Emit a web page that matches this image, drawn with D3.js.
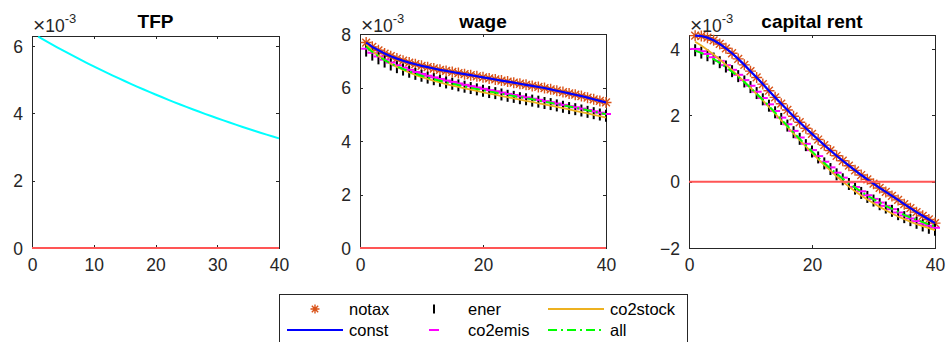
<!DOCTYPE html>
<html><head><meta charset="utf-8">
<script src="https://cdn.jsdelivr.net/npm/d3@7"></script>
<style>body{margin:0;background:#fff}svg{display:block}text{font-family:"Liberation Sans",Arial,Helvetica,sans-serif}</style>
</head><body>
<svg id="c" width="946" height="342"></svg>
<script>
const periods = d3.range(1, 41);

const tfpValues = [6.280,6.175,6.072,5.971,5.871,5.773,5.677,5.582,5.489,5.397,5.307,5.219,5.132,5.046,4.962,4.879,4.798,4.718,4.639,4.562,4.486,4.411,4.337,4.265,4.194,4.124,4.055,3.987,3.921,3.855,3.791,3.728,3.666,3.604,3.544,3.485,3.427,3.370,3.313,3.258];

const wageNotax = [7.68,7.52,7.39,7.27,7.17,7.08,7.00,6.93,6.87,6.81,6.76,6.71,6.66,6.62,6.58,6.54,6.50,6.46,6.42,6.38,6.34,6.30,6.26,6.22,6.18,6.14,6.10,6.06,6.02,5.98,5.93,5.88,5.83,5.78,5.73,5.68,5.62,5.56,5.50,5.44];
const wageConst = [7.68,7.52,7.39,7.27,7.17,7.08,7.00,6.93,6.87,6.81,6.76,6.71,6.66,6.62,6.58,6.54,6.50,6.46,6.42,6.38,6.34,6.30,6.26,6.22,6.18,6.14,6.10,6.06,6.02,5.98,5.93,5.88,5.83,5.78,5.73,5.68,5.62,5.56,5.50,5.44];
const wageEner = [7.38,7.23,7.09,6.97,6.86,6.76,6.67,6.59,6.51,6.44,6.37,6.31,6.25,6.19,6.14,6.08,6.03,5.98,5.93,5.88,5.83,5.79,5.74,5.69,5.65,5.60,5.56,5.51,5.47,5.42,5.38,5.33,5.28,5.23,5.19,5.14,5.09,5.04,4.99,4.94];
const wageCo2emis = [7.45,7.30,7.16,7.04,6.93,6.83,6.74,6.66,6.58,6.51,6.44,6.38,6.32,6.26,6.21,6.15,6.10,6.05,6.00,5.95,5.90,5.86,5.81,5.76,5.72,5.67,5.63,5.58,5.54,5.49,5.45,5.40,5.35,5.30,5.26,5.21,5.16,5.11,5.06,5.01];
const wageCo2stock = [7.60,7.38,7.19,7.03,6.89,6.77,6.66,6.56,6.47,6.39,6.32,6.25,6.19,6.13,6.07,6.02,5.97,5.92,5.87,5.82,5.77,5.73,5.68,5.64,5.59,5.55,5.50,5.46,5.41,5.37,5.32,5.28,5.23,5.18,5.13,5.08,5.03,4.98,4.93,4.87];
const wageAll = [7.52,7.33,7.16,7.02,6.90,6.79,6.69,6.60,6.52,6.44,6.37,6.31,6.25,6.19,6.14,6.09,6.04,5.99,5.94,5.90,5.85,5.81,5.77,5.72,5.68,5.64,5.60,5.56,5.51,5.47,5.43,5.38,5.34,5.29,5.25,5.20,5.15,5.10,5.05,5.00];

const rentNotax = [4.40,4.39,4.34,4.26,4.15,4.02,3.87,3.70,3.52,3.33,3.14,2.94,2.74,2.54,2.35,2.16,1.97,1.79,1.61,1.44,1.27,1.10,0.94,0.78,0.63,0.48,0.34,0.20,0.07,-0.06,-0.19,-0.31,-0.43,-0.55,-0.68,-0.80,-0.92,-1.03,-1.14,-1.25];
const rentConst = [4.40,4.39,4.34,4.26,4.15,4.02,3.87,3.70,3.52,3.33,3.14,2.94,2.74,2.54,2.35,2.16,1.97,1.79,1.61,1.44,1.27,1.10,0.94,0.78,0.63,0.48,0.34,0.20,0.07,-0.06,-0.19,-0.31,-0.43,-0.55,-0.68,-0.80,-0.92,-1.03,-1.14,-1.25];
const rentEner = [3.96,3.89,3.81,3.71,3.60,3.47,3.33,3.18,3.02,2.85,2.67,2.48,2.29,2.09,1.89,1.69,1.49,1.29,1.10,0.91,0.73,0.55,0.38,0.22,0.07,-0.07,-0.21,-0.34,-0.46,-0.57,-0.68,-0.78,-0.88,-0.98,-1.07,-1.16,-1.24,-1.32,-1.39,-1.45];
const rentCo2emis = [4.00,3.93,3.85,3.75,3.64,3.51,3.37,3.22,3.06,2.89,2.71,2.52,2.33,2.13,1.93,1.73,1.53,1.33,1.14,0.95,0.77,0.60,0.43,0.27,0.12,-0.02,-0.16,-0.29,-0.41,-0.52,-0.63,-0.73,-0.83,-0.93,-1.02,-1.11,-1.19,-1.27,-1.33,-1.39];
const rentCo2stock = [4.22,4.10,3.97,3.83,3.68,3.52,3.36,3.19,3.01,2.83,2.64,2.45,2.25,2.05,1.85,1.65,1.45,1.25,1.06,0.87,0.68,0.50,0.33,0.16,0.00,-0.15,-0.29,-0.42,-0.54,-0.65,-0.76,-0.86,-0.96,-1.05,-1.13,-1.21,-1.28,-1.34,-1.40,-1.46];
const rentAll = [3.95,3.88,3.79,3.69,3.58,3.45,3.31,3.16,3.00,2.83,2.65,2.47,2.28,2.08,1.88,1.68,1.48,1.29,1.10,0.91,0.73,0.56,0.40,0.24,0.09,-0.05,-0.18,-0.30,-0.42,-0.53,-0.63,-0.73,-0.82,-0.91,-1.00,-1.08,-1.15,-1.22,-1.29,-1.35];

const panelTitles = ["TFP", "wage", "capital rent"];
const xTicks1 = [0, 10, 20, 30, 40];
const xTicks23 = [0, 20, 40];
const yTicksTFP = [0, 2, 4, 6];
const yTicksWage = [0, 2, 4, 6, 8];
const yTicksRent = [-2, 0, 2, 4];
const seriesNames = ["notax", "const", "ener", "co2emis", "co2stock", "all"];
const exponentLabel = "-3";

const C = {axis:"#262626", notax:"#D95319", const:"#0000FF", ener:"#000000", co2emis:"#FF00FF", co2stock:"#EDB120", all:"#00FF00", tfp:"#00FFFF", zero:"#FF5555"};

const svg = d3.select("#c");
const plotBottom = 248;

const panels = [
  {x0:32, x1:279, yDomain:[0,6.3], yTop:36, xTicks:xTicks1, yTicks:yTicksTFP, title:panelTitles[0], series:null, tfp:tfpValues},
  {x0:360, x1:606, yDomain:[0,8], yTop:34, xTicks:xTicks23, yTicks:yTicksWage, title:panelTitles[1],
    series:{notax:wageNotax, const:wageConst, ener:wageEner, co2emis:wageCo2emis, co2stock:wageCo2stock, all:wageAll}},
  {x0:689, x1:935, yDomain:[-2,4.42], yTop:35, xTicks:xTicks23, yTicks:yTicksRent, title:panelTitles[2],
    series:{notax:rentNotax, const:rentConst, ener:rentEner, co2emis:rentCo2emis, co2stock:rentCo2stock, all:rentAll}}
];

function asteriskPath(r){
  const d = r*0.7071;
  return `M${-r},0L${r},0M0,${-r}L0,${r}M${-d},${-d}L${d},${d}M${-d},${d}L${d},${-d}`;
}

panels.forEach(p => {
  const g = svg.append("g");
  const x = d3.scaleLinear().domain([0,40]).range([p.x0, p.x1]);
  const y = d3.scaleLinear().domain(p.yDomain).range([plotBottom, p.yTop]);
  const tl = 3;
  g.append("rect").attr("x", p.x0).attr("y", p.yTop).attr("width", p.x1-p.x0).attr("height", plotBottom-p.yTop)
    .attr("fill","none").attr("stroke",C.axis).attr("stroke-width",1).attr("shape-rendering","crispEdges");
  const fs = "17.5px";
  const ax = g.append("g").attr("transform",`translate(0,${plotBottom})`)
    .call(d3.axisBottom(x).tickValues(p.xTicks).tickSize(-tl).tickPadding(11).tickFormat(d3.format("d")));
  const axT = g.append("g").attr("transform",`translate(0,${p.yTop})`)
    .call(d3.axisTop(x).tickValues(p.xTicks).tickSize(-tl).tickFormat(""));
  const ay = g.append("g").attr("transform",`translate(${p.x0},0)`)
    .call(d3.axisLeft(y).tickValues(p.yTicks).tickSize(-tl).tickPadding(9).tickFormat(d3.format("d")));
  const ayR = g.append("g").attr("transform",`translate(${p.x1},0)`)
    .call(d3.axisRight(y).tickValues(p.yTicks).tickSize(-tl).tickFormat(""));
  [ax,axT,ay,ayR].forEach(a=>{
    a.select(".domain").remove();
    a.selectAll("line").attr("stroke",C.axis).attr("shape-rendering","crispEdges");
    a.selectAll("text").attr("fill",C.axis).style("font-size",fs).style("font-family",'"Liberation Sans",Arial,sans-serif');
  });
  ax.selectAll("text").attr("dy","0.71em");
  ay.selectAll("text").attr("dy","0.35em");

  const line = d3.line().x((d,i)=>x(periods[i])).y(d=>y(d));

  if (p.tfp) {
    g.append("path").datum(p.tfp).attr("d", line).attr("fill","none").attr("stroke",C.tfp).attr("stroke-width",2);
  }
  if (p.series) {
    const s = p.series;
    g.append("g").selectAll("path").data(s.notax).join("path")
      .attr("transform",(d,i)=>`translate(${x(periods[i])},${y(d)})`)
      .attr("d", asteriskPath(5.5)).attr("stroke",C.notax).attr("stroke-width",1.4).attr("fill","none");
    g.append("path").datum(s.const).attr("d", line).attr("fill","none").attr("stroke",C.const).attr("stroke-width",2.2);
    g.append("g").selectAll("line").data(s.ener).join("line")
      .attr("x1",(d,i)=>x(periods[i])).attr("x2",(d,i)=>x(periods[i]))
      .attr("y1",d=>y(d)-6).attr("y2",d=>y(d)+6).attr("stroke",C.ener).attr("stroke-width",2);
    g.append("g").selectAll("line").data(s.co2emis).join("line")
      .attr("x1",(d,i)=>x(periods[i])-5).attr("x2",(d,i)=>x(periods[i])+5)
      .attr("y1",d=>y(d)).attr("y2",d=>y(d)).attr("stroke",C.co2emis).attr("stroke-width",2);
    g.append("path").datum(s.co2stock).attr("d", line).attr("fill","none").attr("stroke",C.co2stock).attr("stroke-width",1.8);
    g.append("path").datum(s.all).attr("d", line).attr("fill","none").attr("stroke",C.all).attr("stroke-width",2)
      .attr("stroke-dasharray","9,4,2,4");
  }
  g.append("line").attr("x1",x(0)).attr("x2",x(40)).attr("y1",y(0)).attr("y2",y(0))
    .attr("stroke",C.zero).attr("stroke-width",2);

  g.append("text").attr("x",(p.x0+p.x1)/2).attr("y",28).attr("text-anchor","middle")
    .style("font-size","19px").style("font-weight","bold").attr("fill","#000").text(p.title);
  const ex = g.append("text").attr("x",p.x0+1).attr("y",32).attr("fill",C.axis).style("font-size","17.5px");
  ex.append("tspan").style("font-size","21px").text("\u00d7");
  ex.append("tspan").text("10");
  ex.append("tspan").attr("dy",-9).style("font-size","13px").text(exponentLabel);
});

const lg = svg.append("g");
lg.append("rect").attr("x",279.5).attr("y",294.5).attr("width",408).attr("height",60)
  .attr("fill","#fff").attr("stroke",C.axis).attr("stroke-width",1);
const cols = [287, 406, 548];
const rows = [309, 330];
const sampleW = 56;
seriesNames.forEach((name,k)=>{
  const col = Math.floor(k/2), row = k%2;
  const sx = cols[col], sy = rows[row], cx = sx + sampleW/2;
  const item = lg.append("g");
  if (name === "notax") {
    item.append("path").attr("transform",`translate(${cx},${sy})`).attr("d",asteriskPath(4.5))
      .attr("stroke",C.notax).attr("stroke-width",1.4).attr("fill","none");
  } else if (name === "ener") {
    item.append("line").attr("x1",cx).attr("x2",cx).attr("y1",sy-4.5).attr("y2",sy+4.5).attr("stroke",C.ener).attr("stroke-width",2);
  } else if (name === "co2emis") {
    item.append("line").attr("x1",cx-5).attr("x2",cx+5).attr("y1",sy).attr("y2",sy).attr("stroke",C.co2emis).attr("stroke-width",2);
  } else {
    const ln = item.append("line").attr("x1",sx).attr("x2",sx+sampleW).attr("y1",sy).attr("y2",sy)
      .attr("stroke",C[name]).attr("stroke-width", name==="co2stock"?1.8:2);
    if (name === "all") ln.attr("stroke-dasharray","9,4,2,4");
  }
  item.append("text").attr("x",sx+sampleW+6).attr("y",sy+6).attr("fill","#000")
    .style("font-size","16.5px").text(name);
});
</script>
</body></html>
